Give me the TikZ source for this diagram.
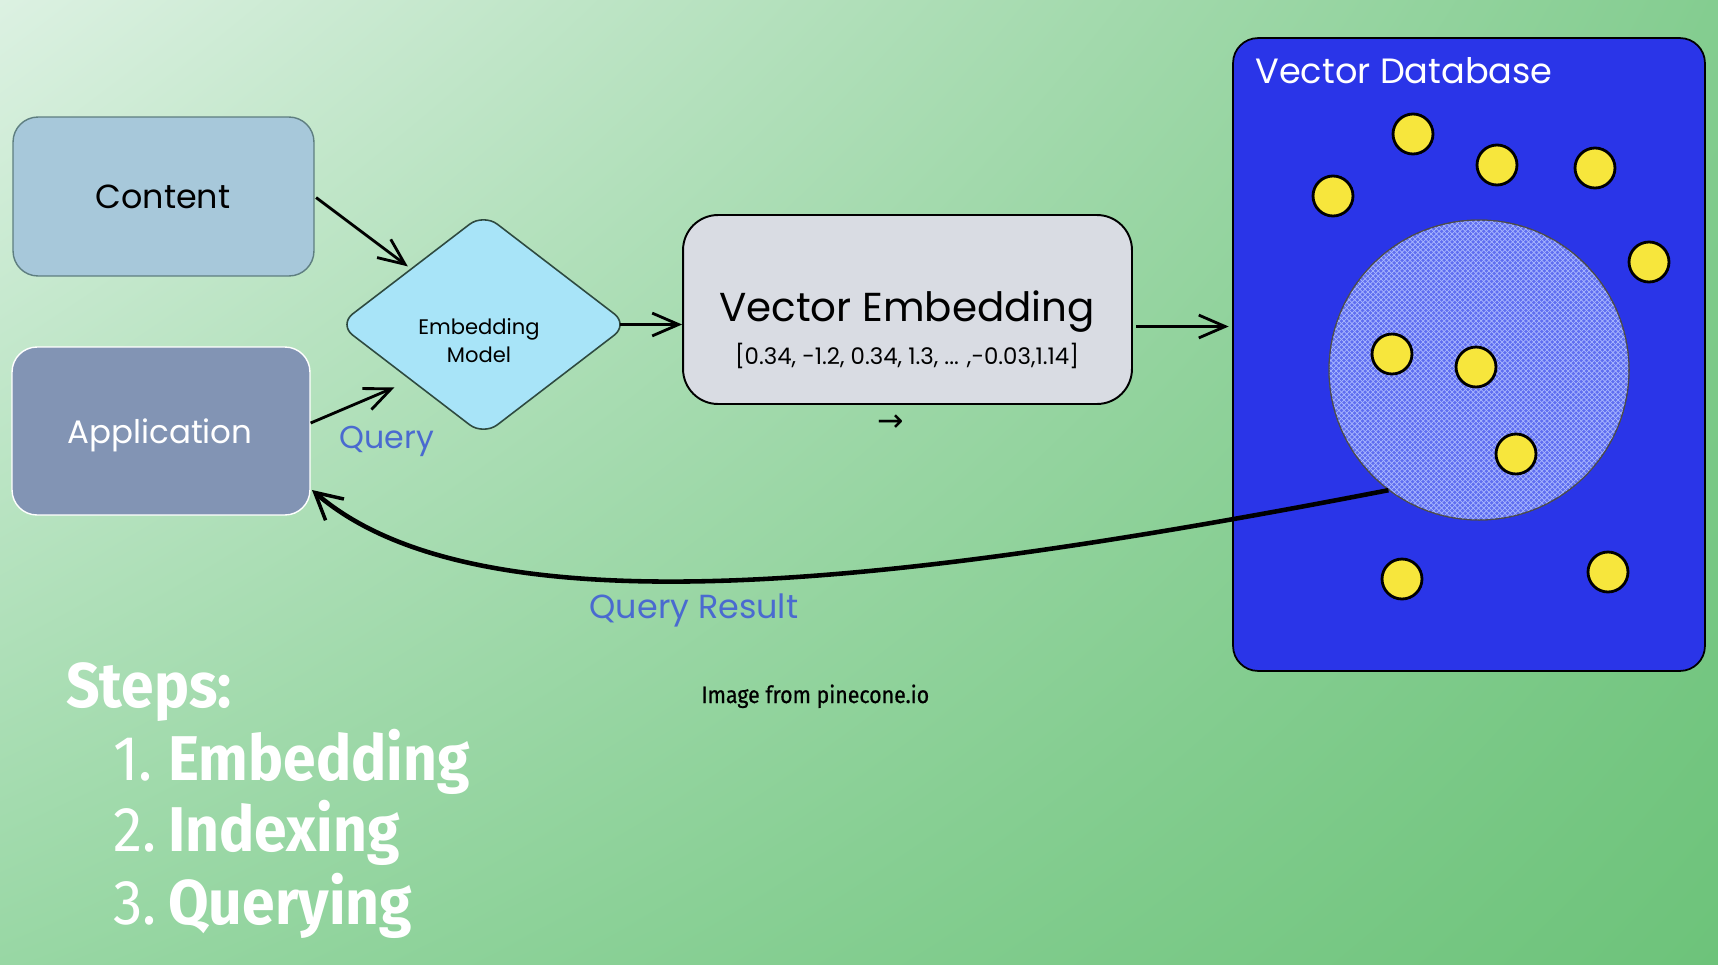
\documentclass[tikz,border=0pt]{standalone}
\usepackage{fontspec}
\newfontfamily\hand{Poppins}
\newfontfamily\stepsfont[FakeStretch=0.93]{Fira Sans}
\newfontfamily\credfont[FakeStretch=0.9,FakeBold=0.7]{Fira Sans}
\newfontfamily\symfont{DejaVu Sans}
\usetikzlibrary{arrows.meta,shapes.geometric,patterns,calc,shadings}
\definecolor{bgUL}{HTML}{DCF1E2}
\definecolor{bgUR}{HTML}{84CD90}
\definecolor{bgLL}{HTML}{98D7A4}
\definecolor{bgLR}{HTML}{6DC37A}
\definecolor{contentfill}{HTML}{A7C8DA}
\definecolor{contentline}{HTML}{5E7E80}
\definecolor{appfill}{HTML}{8294B4}
\definecolor{diamfill}{HTML}{A8E4F8}
\definecolor{diamline}{HTML}{2E4A40}
\definecolor{vefill}{HTML}{D9DCE3}
\definecolor{dbblue}{HTML}{2A35E8}
\definecolor{clufill}{HTML}{5F6EF0}
\definecolor{clugrid}{HTML}{AAB8FF}
\definecolor{dotyellow}{HTML}{F7E63C}
\definecolor{labelblue}{HTML}{4A6AD0}
\begin{document}
\begin{tikzpicture}[x=0.02cm,y=-0.02cm,
  boxc/.style={rectangle, rounded corners=0.5cm, inner sep=0pt},
  handtxt/.style={font=\hand, inner sep=0pt},
  arr/.style={draw=black, line width=1.6pt, -{Straight Barb[length=15pt,width=13pt,line width=1.6pt]}},
  dot/.style={circle, minimum size=0.8cm, inner sep=0pt, fill=dotyellow, draw=black, line width=1.6pt},
  stepnum/.style={font=\stepsfont\fontsize{36}{40}\selectfont, text=white, inner sep=0pt, anchor=base west},
]
\useasboundingbox (0,0) rectangle (1718,964);
\shade[upper left=bgUL, upper right=bgUR, lower left=bgLL, lower right=bgLR] (0,0) rectangle (1718,964);

% Content and Application
\node[boxc, fill=contentfill, draw=contentline, line width=0.8pt, minimum width=6.02cm, minimum height=3.18cm] (content) at (163.5,196.5) {};
\node[handtxt, font=\hand\fontsize{19}{22}\selectfont] (contentlbl) at (163,197) {Content};
\node[boxc, fill=appfill, draw=white, line width=0.8pt, minimum width=5.96cm, minimum height=3.36cm] (app) at (161,431) {};
\node[handtxt, font=\hand\fontsize{18.5}{22}\selectfont, text=white] (applbl) at (160,435) {Application};

% Embedding model diamond
\node[diamond, fill=diamfill, draw=diamline, line width=0.9pt, rounded corners=0.35cm, minimum width=5.8cm, minimum height=4.45cm, inner sep=0pt] (dia) at (483.5,324.5) {};
\node[handtxt, font=\hand\fontsize{12}{16}\selectfont, align=center] (dialbl) at (479,341) {Embedding\\Model};

% Vector embedding
\node[boxc, rounded corners=0.7cm, fill=vefill, draw=black, line width=1.1pt, minimum width=8.98cm, minimum height=3.78cm] (ve) at (907.5,309.5) {};
\node[handtxt, font=\hand\fontsize{23}{28}\selectfont] (vetitle) at (907,312) {Vector Embedding};
\node[handtxt, font=\hand\fontsize{13}{15}\selectfont] (vevec) at (907,356) {[0.34, -1.2, 0.34, 1.3, ... ,-0.03,1.14]};
\node[inner sep=0pt, font=\symfont\fontsize{18}{20}\selectfont] (cursor) at (891,423) {→};

% Vector database
\node[boxc, rounded corners=0.5cm, fill=dbblue, draw=black, line width=1pt, minimum width=9.44cm, minimum height=12.66cm] (db) at (1469,354.5) {};
\node[handtxt, font=\hand\fontsize{20}{24}\selectfont, text=white, anchor=west] (dbtitle) at (1255,71) {Vector Database};
\node[circle, minimum size=6cm, inner sep=0pt, fill=clufill, draw=black!70, line width=0.6pt,
  postaction={pattern=north east lines, pattern color=clugrid},
  postaction={pattern=north west lines, pattern color=clugrid}] (clu) at (1479,370) {};
\draw[black!70, line width=0.6pt] (clu) circle (3cm);
\node[dot] (d1) at (1413,134) {};
\node[dot] (d2) at (1497,165) {};
\node[dot] (d3) at (1595,168) {};
\node[dot] (d4) at (1333,196) {};
\node[dot] (d5) at (1649,262) {};
\node[dot] (d6) at (1392,354) {};
\node[dot] (d7) at (1476,367) {};
\node[dot] (d8) at (1516,454) {};
\node[dot] (d9) at (1402,579) {};
\node[dot] (d10) at (1608,572) {};

% connectors
\draw[arr, shorten <=1pt, shorten >=2pt] (content.east) -- (dia.north west);
\draw[arr, shorten >=10pt] ($(app.east)+(0,-8)$) -- (dia.south west);
\draw[arr, shorten <=-5pt] (dia.east) -- (dia.east -| ve.west);
\coordinate (vearrow) at ($(ve.east)+(0,17)$);
\draw[arr, shorten <=2pt, shorten >=2pt] (vearrow) -- (vearrow -| db.west);
\coordinate (qe) at (312,490);
\draw[line width=2.6pt, -{Straight Barb[length=15pt,width=16pt,line width=2pt]}] (clu.233) .. controls (900,585) and (480,635) .. (qe);

% labels
\node[handtxt, font=\hand\fontsize{18}{22}\selectfont, text=labelblue] (qlbl) at (387,441) {Query};
\node[handtxt, font=\hand\fontsize{19}{22}\selectfont, text=labelblue] (qrlbl) at (694,610) {Query Result};

% steps
\node[stepnum, font=\stepsfont\bfseries\fontsize{36}{40}\selectfont] (steps) at (66,707) {Steps:};
\node[stepnum] (n1) at (113,780) {1.};
\node[stepnum, font=\stepsfont\bfseries\fontsize{36}{40}\selectfont] (s1) at (168,780) {Embedding};
\node[stepnum] (n2) at (113,851) {2.};
\node[stepnum, font=\stepsfont\bfseries\fontsize{36}{40}\selectfont] (s2) at (168,851) {Indexing};
\node[stepnum] (n3) at (113,924) {3.};
\node[stepnum, font=\stepsfont\bfseries\fontsize{36}{40}\selectfont] (s3) at (168,924) {Querying};

\node[inner sep=0pt, anchor=base west, font=\credfont\fontsize{13.5}{15}\selectfont] (credit) at (701,703) {Image from pinecone.io};
\end{tikzpicture}
\end{document}
